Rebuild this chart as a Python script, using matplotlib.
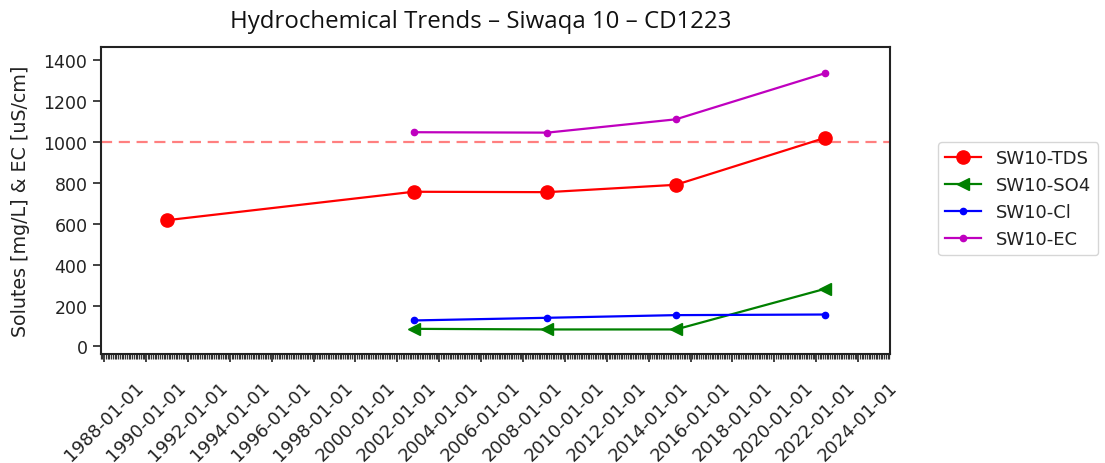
import matplotlib
matplotlib.use("Agg")
import matplotlib.pyplot as plt
import matplotlib.dates as mdates
import numpy as np
import pandas as pd

# Sampling dates and measured values for well SW10
tds_dates = ["1991-01-01", "2002-10-10", "2009-03-01", "2015-04-20", "2022-06-10"]
tds_values = [617, 756, 754, 790, 1020]

chem_dates = ["2002-10-10", "2009-03-01", "2015-04-20", "2022-06-10"]
so4_values = [86, 83, 83, 282]
cl_values = [127, 140, 153, 156]
ec_values = [1047, 1045, 1110, 1336]

threshold = 1000

title = "Hydrochemical Trends \u2013 Siwaqa 10 \u2013 CD1223"
ylabel = "Solutes [mg/L] & EC [uS/cm]"

tds_t = pd.to_datetime(tds_dates)
chem_t = pd.to_datetime(chem_dates)

fig = plt.figure(figsize=(11.05, 4.64), dpi=100)
ax = fig.add_axes([0.0911, 0.2349, 0.8054 - 0.0911, 0.8959 - 0.2349])

ax.plot(tds_t, tds_values, color="red", marker="o", markersize=9.5, lw=1.6, label="SW10-TDS")
ax.plot(chem_t, so4_values, color="green", marker="<", markersize=9, lw=1.6, label="SW10-SO4")
ax.plot(chem_t, cl_values, color="blue", marker="o", markersize=4.5, lw=1.6, label="SW10-Cl")
ax.plot(chem_t, ec_values, color="m", marker="o", markersize=4.5, lw=1.6, label="SW10-EC")
ax.axhline(threshold, color="red", alpha=0.5, ls="--", lw=1.6, dashes=(5, 3))

ax.set_xlim(pd.Timestamp("1987-11-01"), pd.Timestamp("2025-07-10"))
ax.set_ylim(-37, 1462)
ax.set_yticks(np.arange(0, 1401, 200))

ax.xaxis.set_major_locator(mdates.YearLocator(2))
ax.xaxis.set_major_formatter(mdates.DateFormatter("%Y-%m-%d"))
ax.xaxis.set_minor_locator(mdates.MonthLocator())
ax.tick_params(axis="y", which="major", labelsize=12.5, length=6, width=1.2, colors="#222222")
ax.tick_params(axis="x", which="major", labelsize=12.9, length=6, width=1.2, pad=11, colors="#222222")
ax.tick_params(axis="x", which="minor", length=3.5, width=0.9, colors="#333333")
plt.setp(ax.get_xticklabels(), rotation=45, ha="center")

for sp in ax.spines.values():
    sp.set_linewidth(1.5)
    sp.set_color("#222222")

ax.set_ylabel(ylabel, fontsize=13.7, color="#222222")
ax.yaxis.set_label_coords(-0.09, 0.5)

fig.text(0.435, 0.952, title, ha="center", va="center", fontsize=17.3, family="Open Sans", color="#111111")

leg = ax.legend(loc="upper left", bbox_to_anchor=(0.849, 0.692), bbox_transform=fig.transFigure,
                borderaxespad=0, fontsize=13, frameon=True, handlelength=2.0)
for t in leg.get_texts():
    t.set_color("#222222")

fig.savefig("out.png", dpi=100)
